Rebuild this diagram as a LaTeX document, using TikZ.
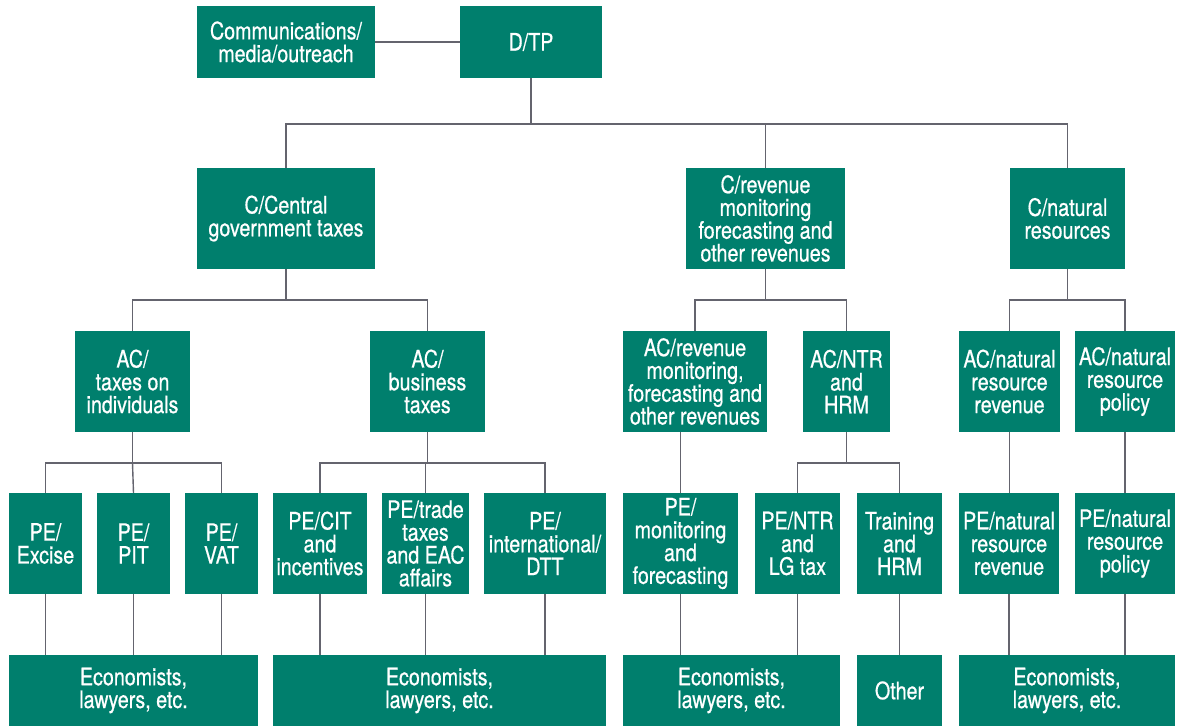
\documentclass[tikz,border=0pt]{standalone}
\usepackage{fontspec}
\setmainfont{TeX Gyre Heros}[FakeStretch=0.82, FakeBold=0.6]
\usepackage{tikz}
\usepackage{xcolor}
\definecolor{unit}{RGB}{0,127,109}
\definecolor{link}{RGB}{100,100,110}

\begin{document}
\begin{tikzpicture}[
    x = 1pt, y = -1pt,
    box/.style = {fill = unit, text = white, align = center, inner sep = 0pt,
                  font = \fontsize{24}{22.8}\selectfont, minimum height = 101pt},
    bottombox/.style = {box, minimum height = 71pt},
    wire/.style = {draw = link, line width = 1.4pt}
    ]
    \useasboundingbox (0,0) rectangle (1180,726);

    % top
    \node[box, minimum width = 178pt, minimum height = 72pt] (comm) at (286,42) {Communications/\\media/outreach};
    \node[box, minimum width = 142pt, minimum height = 72pt] (dtp) at (531,42) {D/TP};

    % commissioners
    \node[box, minimum width = 178pt] (ccent) at (286,218.5) {C/Central\\government taxes};
    \node[box, minimum width = 159pt] (crev) at (765.5,218.5) {C/revenue\\monitoring\\forecasting and\\other revenues};
    \node[box, minimum width = 115pt] (cnat) at (1067.5,218.5) {C/natural\\resources};

    % assistant commissioners
    \node[box, minimum width = 115pt] (acind) at (132.5,381.5) {AC/\\taxes on\\individuals};
    \node[box, minimum width = 115pt] (acbus) at (427.5,381.5) {AC/\\business\\taxes};
    \node[box, minimum width = 144pt] (acrev) at (695,381.5) {AC/revenue\\monitoring,\\forecasting and\\other revenues};
    \node[box, minimum width = 87pt] (acntr) at (846.5,381.5) {AC/NTR\\and\\HRM};
    \node[box, minimum width = 101pt] (acnrr) at (1009.5,381.5) {AC/natural\\resource\\revenue};
    \node[box, minimum width = 100pt] (acnrp) at (1125,381.5) {AC/natural\\resource\\policy};

    % principal economists
    \node[box, minimum width = 73pt] (peexc) at (45.5,543.5) {PE/\\Excise};
    \node[box, minimum width = 73pt] (pepit) at (133.5,543.5) {PE/\\PIT};
    \node[box, minimum width = 73pt] (pevat) at (221.5,543.5) {PE/\\VAT};
    \node[box, minimum width = 94pt] (pecit) at (320,543.5) {PE/CIT\\and\\incentives};
    \node[box, minimum width = 87pt] (petrade) at (425.5,543.5) {PE/trade\\taxes\\and EAC\\affairs};
    \node[box, minimum width = 122pt] (peint) at (545,543.5) {PE/\\international/\\DTT};
    \node[box, minimum width = 115pt] (pemon) at (680.5,543.5) {PE/\\monitoring\\and\\forecasting};
    \node[box, minimum width = 85pt] (pentr) at (797.5,543.5) {PE/NTR\\and\\LG tax};
    \node[box, minimum width = 85pt] (petrain) at (899.5,543.5) {Training\\and\\HRM};
    \node[box, minimum width = 100pt] (penrr) at (1009,543.5) {PE/natural\\resource\\revenue};
    \node[box, minimum width = 100pt] (penrp) at (1125,543.5) {PE/natural\\resource\\policy};

    % staff
    \node[bottombox, minimum width = 249pt] (econa) at (133.5,690.5) {Economists,\\lawyers, etc.};
    \node[bottombox, minimum width = 333pt] (econb) at (439.5,690.5) {Economists,\\lawyers, etc.};
    \node[bottombox, minimum width = 217pt] (econc) at (731.5,690.5) {Economists,\\lawyers, etc.};
    \node[bottombox, minimum width = 85pt] (other) at (899.5,690.5) {Other};
    \node[bottombox, minimum width = 216pt] (econd) at (1067,690.5) {Economists,\\lawyers, etc.};

    % junctions
    \coordinate (jtop) at (531,124);
    \coordinate (jcent) at (286,300);
    \coordinate (jrev) at (765.5,300);
    \coordinate (jnat) at (1067.5,300);
    \coordinate (jind) at (132.5,463);
    \coordinate (jbus) at (427.5,463);
    \coordinate (jntr) at (846.5,463);

    \begin{scope}[wire]
        \draw (comm.east) -- (dtp.west);
        \draw (dtp.south) -- (jtop);
        \draw (ccent.north) |- (jtop) -| (cnat.north);
        \draw (crev.north) -- (crev.north |- jtop);

        \draw (ccent.south) -- (jcent);
        \draw (acind.north) |- (jcent) -| (acbus.north);
        \draw (crev.south) -- (jrev);
        \draw (acrev.north) |- (jrev) -| (acntr.north);
        \draw (cnat.south) -- (jnat);
        \draw (acnrr.north) |- (jnat) -| (acnrp.north);

        \draw (acind.south) -- (jind);
        \draw (peexc.north) |- (jind) -| (pevat.north);
        \draw (pepit.north) -- (jind);
        \draw (acbus.south) -- (jbus);
        \draw (pecit.north) |- (jbus) -| (peint.north);
        \draw (petrade.north) -- (petrade.north |- jbus);
        \draw (acrev.south -| pemon.north) -- (pemon.north);
        \draw (acntr.south) -- (jntr);
        \draw (pentr.north) |- (jntr) -| (petrain.north);
        \draw (acnrr.south) -- (penrr.north -| acnrr.south);
        \draw (acnrp.south) -- (penrp.north);

        \foreach \pe in {peexc, pepit, pevat}
            \draw (\pe.south) -- (\pe.south |- econa.north);
        \foreach \pe in {pecit, petrade, peint}
            \draw (\pe.south) -- (\pe.south |- econb.north);
        \foreach \pe in {pemon, pentr}
            \draw (\pe.south) -- (\pe.south |- econc.north);
        \draw (petrain.south) -- (other.north);
        \foreach \pe in {penrr, penrp}
            \draw (\pe.south) -- (\pe.south |- econd.north);
    \end{scope}
\end{tikzpicture}
\end{document}
